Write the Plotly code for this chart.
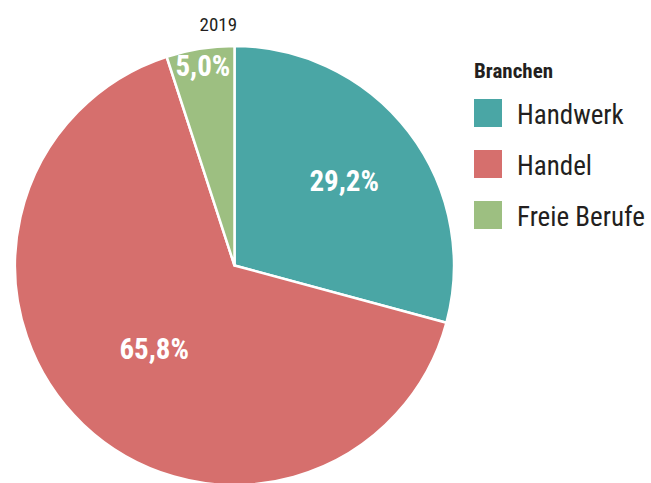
import numpy as np
import plotly.graph_objects as go

# data
branchen = ['Handwerk', 'Handel', 'Freie Berufe']
anteile = [29.2, 65.8, 5.0]
label_text = ['29,2%', '65,8%', '5,0%']
jahr = '2019'
legend_title = 'Branchen'

farben = ['#4aa6a5', '#d66f6d', '#9dbf81']
label_r = [0.63, 0.527, 0.918]   # radial position of the value labels (fraction of radius)

# page is 483 high; the pie runs slightly past the bottom edge, so draw a bit taller and clip
W, H = 651, 490
FONT = 'Roboto, sans-serif'
TXT = '#231f20'

cx, cy, r = 234.5, 265.5, 219.5   # pie centre / radius in pixels


def px(x, y):
	return x / W, 1 - y / H


def note(x, y, text, size, color=TXT, left=False):
	xp, yp = px(x, y)
	return dict(x=xp, y=yp, xref='paper', yref='paper', text=text, showarrow=False,
				xanchor='left' if left else 'center', yanchor='middle',
				align='left' if left else 'center', xshift=-2 if left else 0,
				font=dict(family=FONT, size=size, color=color))


fig = go.Figure()
fig.add_trace(go.Pie(labels=branchen,
					 values=anteile,
					 sort=False,
					 direction='clockwise',
					 rotation=0,
					 marker=dict(colors=farben, line=dict(color='white', width=2.5)),
					 textinfo='none',
					 hoverinfo='label+percent',
					 showlegend=False,
					 domain=dict(x=[(cx - r) / W, (cx + r) / W], y=[1 - (cy + r) / H, 1 - (cy - r) / H])))

annotations = []
cum = np.cumsum([0] + anteile[:-1])
total = sum(anteile)
for i, val in enumerate(anteile):
	theta = 2 * np.pi * (cum[i] + val / 2) / total
	lx = cx + label_r[i] * r * np.sin(theta)
	ly = cy - label_r[i] * r * np.cos(theta)
	annotations.append(note(lx, ly, '<b>' + label_text[i] + '</b>', 29, color='white'))

# year above pie
annotations.append(note(218, 24, jahr, 19))

# hand drawn legend
annotations.append(note(474, 71, '<b>' + legend_title + '</b>', 21, left=True))
shapes = []
for i, name in enumerate(branchen):
	top = 99 + i * 51
	x0, y0 = px(474, top)
	x1, y1 = px(502, top + 28)
	shapes.append(dict(type='rect', xref='paper', yref='paper', x0=x0, y0=y1, x1=x1, y1=y0,
					   fillcolor=farben[i], line=dict(width=0)))
	annotations.append(note(517, top + 16, name, 27, left=True))

fig.update_layout(width=W, height=H,
				  margin=dict(l=0, r=0, t=0, b=0),
				  paper_bgcolor='white', plot_bgcolor='white',
				  annotations=annotations, shapes=shapes)

# no body margin, no scrollbars, narrower cut of Roboto for all texts
post = """document.body.style.margin='0';
document.body.style.overflow='hidden';
var t = document.querySelectorAll('.annotation-text');
for (var i = 0; i < t.length; i++) {
	t[i].style.fontStretch = t[i].querySelector('[style*="bold"]') ? '82%' : 'condensed';
}"""
fig.write_html('out.html', post_script=post, config={'displayModeBar': False})
